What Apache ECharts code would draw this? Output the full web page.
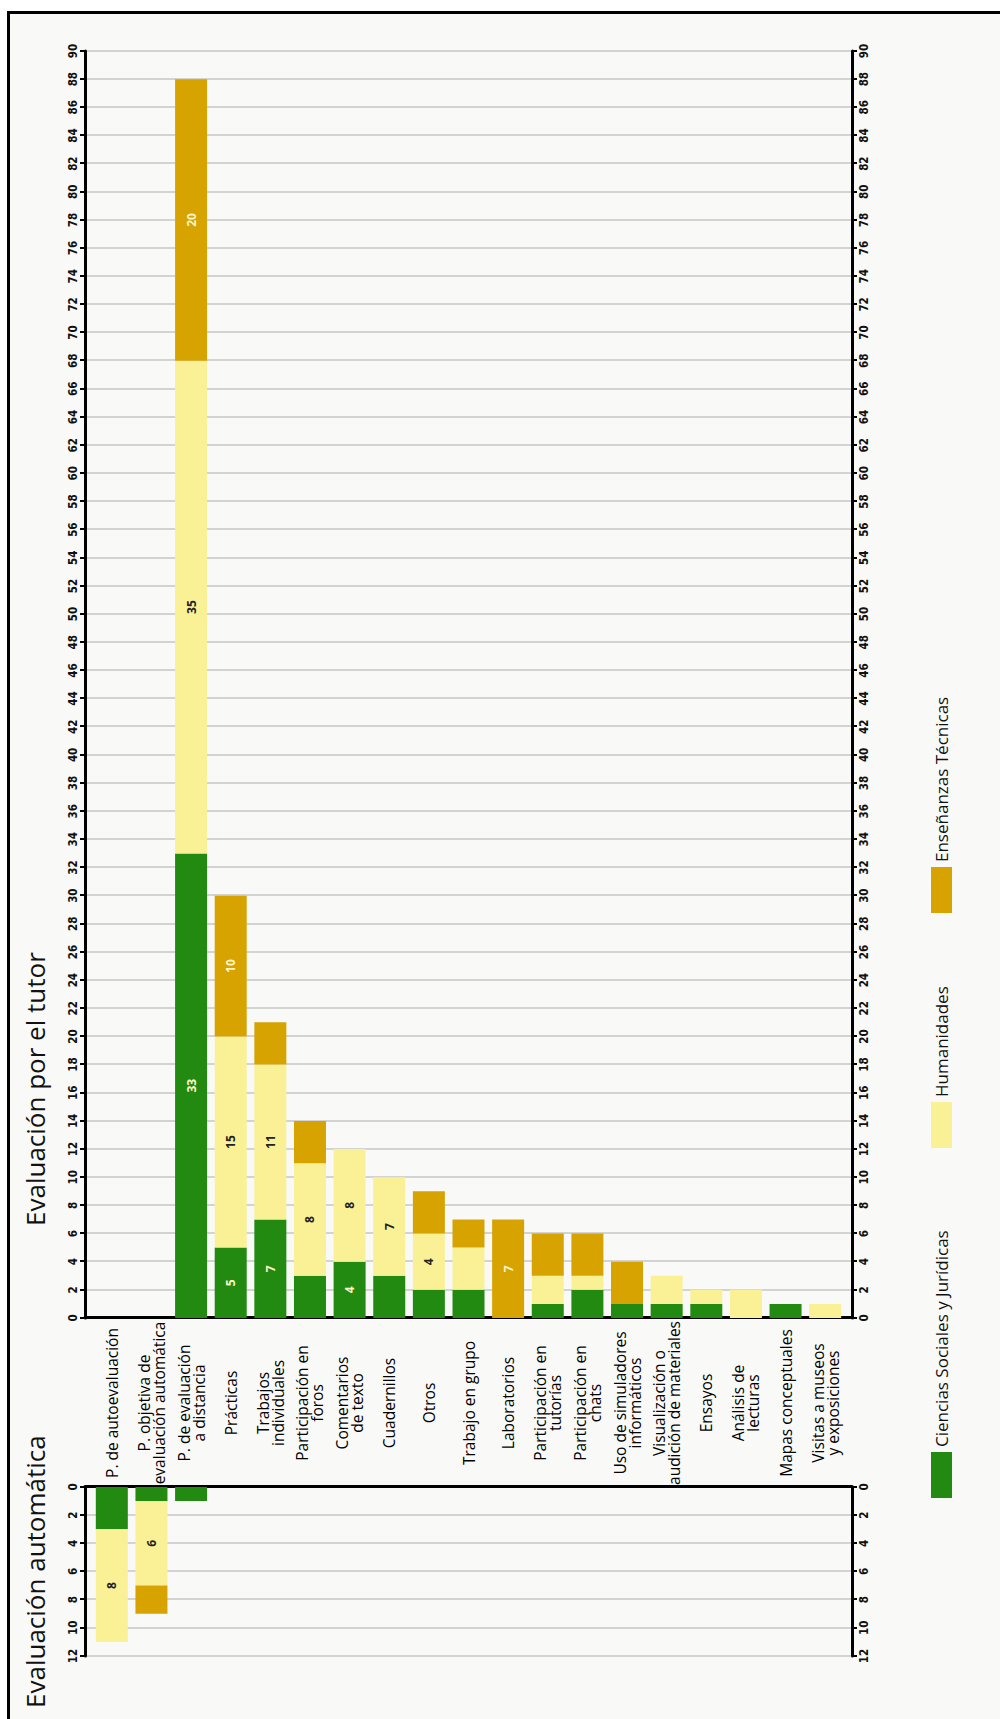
<!DOCTYPE html>
<html><head><meta charset="utf-8">
<script src="https://cdn.jsdelivr.net/npm/echarts@6/dist/echarts.min.js"></script>
<style>
html,body{margin:0;padding:0;background:#fff;width:1000px;height:1719px;overflow:hidden;}
#stage{position:absolute;left:0;top:0;width:1719px;height:1000px;transform-origin:0 0;transform:translate(0,1719px) rotate(-90deg);}
#frame{position:absolute;left:-20px;top:7px;width:1725px;height:1010px;border-top:3px solid #000;border-right:3px solid #000;background:#f9faf7;}
#chart{position:absolute;left:0;top:0;width:1719px;height:1000px;}
</style></head>
<body><div id="stage"><div id="frame"></div><div id="chart"></div></div>
<script>
const categories = ['P. de autoevaluación','P. objetiva de\nevaluación automática','P. de evaluación\na distancia','Prácticas','Trabajos\nindividuales','Participación en\nforos','Comentarios\nde texto','Cuadernillos','Otros','Trabajo en grupo','Laboratorios','Participación en\ntutorías','Participación en\nchats','Uso de simuladores\ninformáticos','Visualización o\naudición de materiales','Ensayos','Análisis de\nlecturas','Mapas conceptuales','Visitas a museos\ny exposiciones'];
const seriesNames = ['Ciencias Sociales y Jurídicas','Humanidades','Enseñanzas Técnicas'];
const panelTitles = ['Evaluación automática','Evaluación por el tutor'];
// Evaluación por el tutor
const tutorCSJ = [0,0,33,5,7,3,4,3,2,2,0,1,2,1,1,1,0,1,0];
const tutorHum = [0,0,35,15,11,8,8,7,4,3,0,2,1,0,2,1,2,0,1];
const tutorTec = [0,0,20,10,3,3,0,0,3,2,7,3,3,3,0,0,0,0,0];
// Evaluación automática
const autoCSJ = [3,1,1,0,0,0,0,0,0,0,0,0,0,0,0,0,0,0,0];
const autoHum = [8,6,0,0,0,0,0,0,0,0,0,0,0,0,0,0,0,0,0];
const autoTec = [0,2,0,0,0,0,0,0,0,0,0,0,0,0,0,0,0,0,0];
const tutorMax = 90, autoMax = 12, tickStep = 2;

const colors = ['#228a10','#faf096','#d6a300'];
const labelColors = ['#fff5c8','#222222','#fff5c8'];
const font = "'Open Sans', 'DejaVu Sans', sans-serif";
const numFont = "'DejaVu Sans Condensed', 'Liberation Sans Narrow', 'Open Sans', sans-serif";

const axisLine = {show:true, onZero:false, lineStyle:{color:'#000', width:3}};
const axisTick = {show:true, length:5, lineStyle:{color:'#000', width:2}};
const axisLabel = {fontFamily:numFont, fontWeight:'bold', fontSize:11.5, color:'#111', margin:6};
const splitLine = {show:true, lineStyle:{color:'#c6c6c6', width:1.5}};

function valueAxis(grid, pos, max, inverse, split){
  return {gridIndex:grid, type:'value', position:pos, min:0, max:max, interval:tickStep, inverse:inverse,
    axisLine:axisLine, axisTick:axisTick, axisLabel:axisLabel, splitLine: split ? splitLine : {show:false}};
}

const chart = echarts.init(document.getElementById('chart'), null, {renderer:'svg'});
const barLabel = (i) => ({show:true, position:'inside', fontFamily:font, fontWeight:'bold', fontSize:12, color:labelColors[i],
  formatter: p => (p.value >= 4 ? String(p.value) : '')});

const tutorData = [tutorCSJ, tutorHum, tutorTec];
const autoData = [autoCSJ, autoHum, autoTec];
const series = [];
seriesNames.forEach((n,i)=>{
  series.push({name:n, type:'bar', stack:'tutor', xAxisIndex:2, yAxisIndex:1, data:tutorData[i], barWidth:32,
    itemStyle:{color:colors[i]}, label:barLabel(i)});
});
seriesNames.forEach((n,i)=>{
  series.push({name:n, type:'bar', stack:'auto', xAxisIndex:5, yAxisIndex:3, data:autoData[i], barWidth:32,
    itemStyle:{color:colors[i]}, label:barLabel(i)});
});

const legendLeft = [221, 571, 806];
const titleStyle = {fontFamily:font, fontSize:26, fontWeight:'normal', color:'#111'};
chart.setOption({
  animation:false,
  backgroundColor:'transparent',
  title: [
    {text:panelTitles[0], left:11, top:22, padding:0, textStyle:titleStyle},
    {text:panelTitles[1], left:493, top:22, padding:0, textStyle:titleStyle}
  ],
  legend: seriesNames.map((n,i)=>({data:[n], left:legendLeft[i], top:931, padding:0, itemWidth:46, itemHeight:21, icon:'rect',
    selectedMode:false, textStyle:{fontFamily:font, fontSize:17, color:'#111'}})),
  grid: [
    {left:401, right:51, top:85, bottom:148},
    {left:401, right:51, top:92, bottom:155},
    {left:63, right:1487, top:85, bottom:148},
    {left:63, right:1487, top:92, bottom:155}
  ],
  xAxis: [
    valueAxis(0,'top',tutorMax,false,true),
    valueAxis(0,'bottom',tutorMax,false,false),
    {gridIndex:1, type:'value', min:0, max:tutorMax, show:false},
    valueAxis(2,'top',autoMax,true,true),
    valueAxis(2,'bottom',autoMax,true,false),
    {gridIndex:3, type:'value', min:0, max:autoMax, inverse:true, show:false}
  ],
  yAxis: [
    {gridIndex:0, type:'category', data:categories, position:'left', axisLine:axisLine, axisTick:{show:false}, axisLabel:{show:false}, splitLine:{show:false}},
    {gridIndex:1, type:'category', data:categories, inverse:true, position:'left', axisLine:{show:false}, axisTick:{show:false},
      axisLabel:{interval:0, margin:85, align:'center', verticalAlign:'middle', fontFamily:font, fontSize:15.5, lineHeight:15, color:'#000'}},
    {gridIndex:2, type:'category', data:categories, position:'right', axisLine:axisLine, axisTick:{show:false}, axisLabel:{show:false}, splitLine:{show:false}},
    {gridIndex:3, type:'category', data:categories, inverse:true, show:false}
  ],
  series: series
});
</script>
</body></html>
